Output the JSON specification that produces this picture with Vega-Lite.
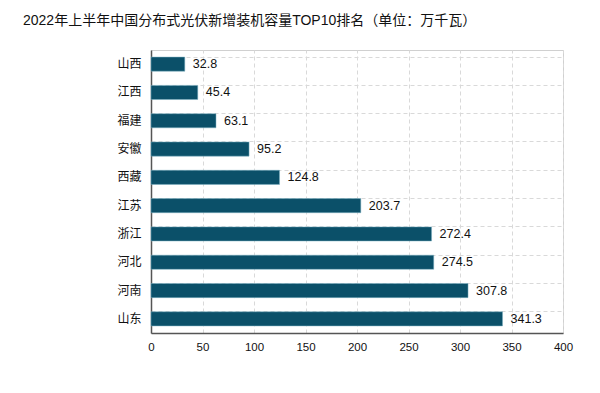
{
  "$schema": "https://vega.github.io/schema/vega-lite/v6.json",
  "autosize": {"type": "none"},
  "width": 412,
  "height": 283,
  "padding": {"left": 151, "top": 50, "right": 37, "bottom": 60},
  "background": "white",
  "title": {
    "text": "2022年上半年中国分布式光伏新增装机容量TOP10排名（单位：万千瓦）",
    "anchor": "start",
    "frame": "group",
    "dx": -128,
    "offset": 22,
    "font": "Liberation Sans, Noto Sans CJK SC",
    "fontSize": 14,
    "fontWeight": "normal",
    "color": "#111111"
  },
  "data": {
    "values": [
      {"province": "山西", "value": 32.8},
      {"province": "江西", "value": 45.4},
      {"province": "福建", "value": 63.1},
      {"province": "安徽", "value": 95.2},
      {"province": "西藏", "value": 124.8},
      {"province": "江苏", "value": 203.7},
      {"province": "浙江", "value": 272.4},
      {"province": "河北", "value": 274.5},
      {"province": "河南", "value": 307.8},
      {"province": "山东", "value": 341.3}
    ]
  },
  "encoding": {
    "y": {
      "field": "province",
      "type": "nominal",
      "sort": null,
      "scale": {"paddingInner": 0.5, "paddingOuter": 0.25},
      "axis": {
        "title": null,
        "domainColor": "#555555",
        "domainWidth": 1.5,
        "ticks": false,
        "labelPadding": 10,
        "labelFont": "Noto Sans CJK SC",
        "labelFontSize": 12,
        "labelColor": "#111111",
        "grid": true,
        "gridDash": [4, 3],
        "gridColor": "#d9d9d9",
        "bandPosition": 0
      }
    },
    "x": {
      "field": "value",
      "type": "quantitative",
      "scale": {"domain": [0, 400]},
      "axis": {
        "title": null,
        "values": [0, 50, 100, 150, 200, 250, 300, 350, 400],
        "labelOverlap": false,
        "labelFlush": false,
        "domainColor": "#555555",
        "domainWidth": 1.5,
        "ticks": false,
        "labelPadding": 8,
        "labelFont": "Liberation Sans",
        "labelFontSize": 11.5,
        "labelColor": "#111111",
        "gridDash": [4, 3],
        "gridColor": "#d9d9d9"
      }
    }
  },
  "layer": [
    {"mark": {"type": "bar", "color": "#0b5069", "stroke": "#7fb2c4", "strokeWidth": 0.5}},
    {
      "mark": {"type": "text", "align": "left", "dx": 8, "font": "Liberation Sans", "fontSize": 12.5, "color": "#111111"},
      "encoding": {"text": {"field": "value", "type": "quantitative", "format": ".1f"}}
    }
  ],
  "config": {"view": {"stroke": "#d0d0d0"}}
}
